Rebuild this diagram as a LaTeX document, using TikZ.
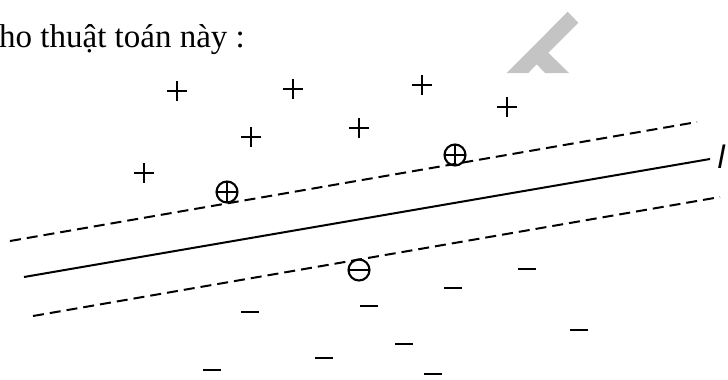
\documentclass[tikz,border=0pt]{standalone}
\usepackage{fontspec}
\setmainfont{Liberation Serif}
\newfontfamily\labelfont{DejaVu Sans}
\usepackage{xcolor}
\usetikzlibrary{positioning}
\definecolor{MarkC}{HTML}{C4C4C4}

\begin{document}
\begin{tikzpicture}[x=1pt,y=-1pt,
  sepline/.style={line width=2pt},
  marginline/.style={line width=2pt,dash pattern=on 11pt off 6pt},
  sign/.style={line width=2.1pt}]
\useasboundingbox (0,0) rectangle (728,380);

% ---------- caption and watermark ----------
\node[anchor=base west,inner sep=0pt,font=\fontsize{33}{36}\selectfont] (title) at (-1,47) {ho thuật toán này :};
\fill[MarkC] (567.7,11.7) -- (578.3,22.7) -- (548.3,52.7) -- (569,73) -- (545,73)
  -- (536.7,64.3) -- (528.3,73) -- (506.7,73) -- cycle;

% ---------- separating line and margins ----------
\draw[sepline]    (24,277) -- (710,159);
\draw[marginline] (10,241) -- (697,122);
\draw[marginline] (33,316) -- (720,197);
\node[anchor=base west,inner sep=0pt,font=\labelfont\itshape\fontsize{31}{33}\selectfont] (hlabel) at (717,168) {l};

% ---------- positive samples ----------
\foreach \px/\py in {177/91,293/89,251/137,359/128,144/173,422/85,507/107}{
  \draw[sign] (\px-10,\py) -- (\px+10,\py) (\px,\py-10) -- (\px,\py+10);}
\foreach \px/\py in {227/192,455/155}{
  \draw[sign] (\px,\py) circle (10.5pt);
  \draw[sign] (\px-10.5,\py) -- (\px+10.5,\py) (\px,\py-10.5) -- (\px,\py+10.5);}

% ---------- negative samples ----------
\foreach \px/\py in {250/312,369/306,453/288,527/269,579/330,404/344,324/358,212/370,433/374}{
  \draw[sign] (\px-9,\py) -- (\px+9,\py);}
\draw[sign] (359,270) circle (10.5pt);
\draw[sign] (348.5,270) -- (369.5,270);
\end{tikzpicture}
\end{document}
